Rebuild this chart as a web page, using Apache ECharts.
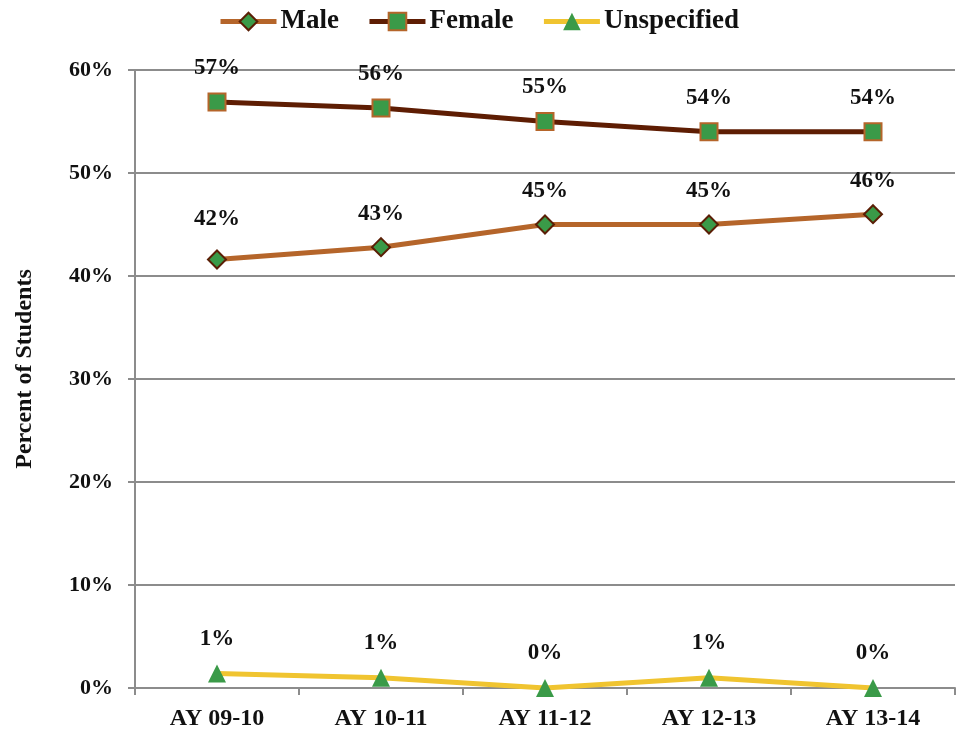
<!DOCTYPE html>
<html>
<head>
<meta charset="utf-8">
<script src="https://cdn.jsdelivr.net/npm/echarts@6/dist/echarts.min.js"></script>
<style>
	html, body { margin: 0; padding: 0; background: #fff; }
	#chart { width: 963px; height: 734px; }
</style>
</head>
<body>
<div id="chart"></div>
<script>
	'use strict';

	/* data */
	var years = ['AY 09-10', 'AY 10-11', 'AY 11-12', 'AY 12-13', 'AY 13-14'];
	var maleVals = [41.6, 42.8, 45.0, 45.0, 46.0];
	var femaleVals = [56.9, 56.3, 55.0, 54.0, 54.0];
	var unspecVals = [1.4, 1.0, 0.0, 1.0, 0.0];
	var yTicks = [0, 10, 20, 30, 40, 50, 60];

	var serif = '"Liberation Serif", "DejaVu Serif", serif';

	function pct(p) {
		return Math.round(p.value) + '%';
	}

	var labelStyle = {
		show: true,
		position: 'top',
		fontFamily: serif,
		fontWeight: 'bold',
		fontSize: 23,
		color: '#111',
		formatter: pct
	};

	var chart = echarts.init(document.getElementById('chart'));

	var option = {
		animation: false,
		grid: {
			left: 135,
			right: 8,
			top: 70,
			bottom: 46
		},
		legend: {
			top: 3,
			left: 213,
			itemWidth: 56,
			itemHeight: 22,
			itemGap: 28,
			lineStyle: { width: 5 },
			textStyle: {
				fontFamily: serif,
				fontWeight: 'bold',
				fontSize: 27,
				color: '#111',
				padding: [0, 0, 0, -1]
			},
			data: ['Male', 'Female', 'Unspecified']
		},
		xAxis: {
			type: 'category',
			data: years,
			boundaryGap: true,
			axisLine: { lineStyle: { color: '#8c8c8c', width: 2 } },
			axisTick: { show: true, length: 7, lineStyle: { color: '#8c8c8c', width: 2 } },
			axisLabel: {
				margin: 19,
				fontFamily: serif,
				fontWeight: 'bold',
				fontSize: 24,
				color: '#111'
			}
		},
		yAxis: {
			type: 'value',
			min: yTicks[0],
			max: yTicks[yTicks.length - 1],
			interval: 10,
			name: 'Percent of Students',
			nameLocation: 'middle',
			nameGap: 98,
			nameTextStyle: {
				fontFamily: serif,
				fontWeight: 'bold',
				fontSize: 24,
				color: '#111',
				padding: [0, 0, 0, 20]
			},
			axisLine: { show: true, lineStyle: { color: '#8c8c8c', width: 2 } },
			axisTick: { show: true, length: 7, lineStyle: { color: '#8c8c8c', width: 2 } },
			splitLine: { lineStyle: { color: '#8c8c8c', width: 2 } },
			axisLabel: {
				margin: 22,
				fontFamily: serif,
				fontWeight: 'bold',
				fontSize: 22,
				color: '#111',
				formatter: '{value}%'
			}
		},
		series: [
			{
				name: 'Male',
				type: 'line',
				data: maleVals.map(function (v, i) {
					return i === 0 ? { value: v, label: { offset: [0, -7] } } : v;
				}),
				symbol: 'diamond',
				symbolSize: 18,
				lineStyle: { color: '#b5652a', width: 5 },
				itemStyle: { color: '#3a9a48', borderColor: '#5a1e05', borderWidth: 2 },
				label: Object.assign({}, labelStyle, { distance: 12 }),
				z: 3
			},
			{
				name: 'Female',
				type: 'line',
				data: femaleVals,
				symbol: 'rect',
				symbolSize: 17,
				lineStyle: { color: '#5e1d03', width: 5 },
				itemStyle: { color: '#3a9a48', borderColor: '#b5652a', borderWidth: 2 },
				label: Object.assign({}, labelStyle, { distance: 13 }),
				z: 3
			},
			{
				name: 'Unspecified',
				type: 'line',
				data: unspecVals,
				symbol: 'triangle',
				symbolSize: 18,
				lineStyle: { color: '#f0c430', width: 5 },
				itemStyle: { color: '#3a9a48', borderWidth: 0 },
				label: Object.assign({}, labelStyle, { distance: 14 }),
				z: 3
			}
		]
	};

	chart.setOption(option);
</script>
</body>
</html>
